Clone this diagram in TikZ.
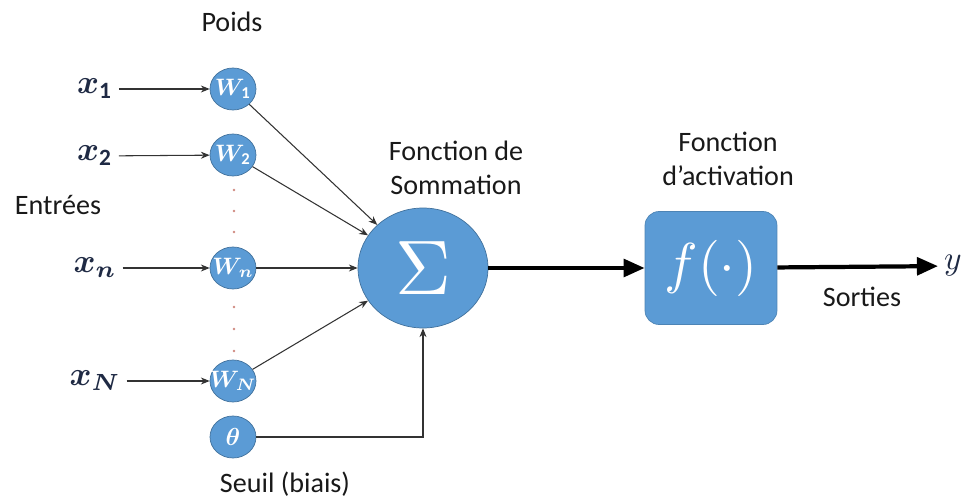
\documentclass[tikz,border=0pt]{standalone}
\usepackage{amsmath}
\usepackage{graphicx}
\usepackage{fontspec}
\setmainfont{Carlito}
\usetikzlibrary{shapes.geometric,arrows.meta}
\definecolor{nodeblue}{HTML}{5B9BD5}
\definecolor{nodeedge}{HTML}{41719C}
\definecolor{dotred}{HTML}{D08A80}
\definecolor{inkblue}{HTML}{1F2A44}
\tikzset{
  weight/.style={ellipse, fill=nodeblue, draw=nodeedge, minimum width=0.92cm, minimum height=0.84cm, inner sep=-10pt, text=white},
  thin arrow/.style={-{Stealth[length=5pt,width=4pt]}, line width=0.6pt, draw=black!80},
  thick arrow/.style={-{Triangle[length=12pt,width=10pt]}, line width=2.4pt},
  label text/.style={font=\fontsize{16}{19}\selectfont, text=black!90, align=center},
  input/.style={text=inkblue}
}
\newcommand{\bigger}[2]{\scalebox{#1}{#2}}
\begin{document}
\begin{tikzpicture}[x=0.02cm, y=-0.02cm]
    \useasboundingbox (0,0) rectangle (961,500);

    % Inputs
    \node[input] (x1) at (95,89) {\bigger{1.9}{$\boldsymbol{x}_{\mathbf{1}}$}};
    \node[input] (x2) at (95,156) {\bigger{1.9}{$\boldsymbol{x}_{\mathbf{2}}$}};
    \node[input] (xn) at (95,268) {\bigger{1.9}{$\boldsymbol{x}_{\boldsymbol{n}}$}};
    \node[input] (xN) at (95,381) {\bigger{1.9}{$\boldsymbol{x}_{\boldsymbol{N}}$}};

    % Weights
    \node[weight] (w1) at (233,89) {\bigger{1.35}{$\boldsymbol{W}_{\!\mathbf{1}}$}};
    \node[weight] (w2) at (233,155) {\bigger{1.35}{$\boldsymbol{W}_{\!\mathbf{2}}$}};
    \node[weight] (wn) at (233,268) {\bigger{1.35}{$\boldsymbol{W}_{\!\boldsymbol{n}}$}};
    \node[weight] (wN) at (233,381) {\bigger{1.35}{$\boldsymbol{W}_{\!\boldsymbol{N}}$}};
    \node[weight] (theta) at (233,437) {\bigger{1.4}{$\boldsymbol{\theta}$}};

    % Dots
    \foreach \y in {190,211,232,307,329,351}
        \fill[dotred] (234,\y) circle (0.8pt);

    % Summation and activation
    \node[ellipse, fill=nodeblue, draw=nodeedge, minimum width=2.6cm, minimum height=2.4cm, inner sep=0pt, text=white] (sum) at (423,268) {\bigger{4.4}{$\Sigma$}};
    \node[rectangle, rounded corners=8pt, fill=nodeblue, draw=nodeblue!85!black, minimum width=2.64cm, minimum height=2.26cm, inner sep=0pt, text=white] (act) at (711,268) {\bigger{3.2}{$f(\cdot)$}};
    \node[input] (y) at (953,266) {\bigger{1.9}{$y$}};

    % Labels
    \node[label text] (poids) at (232,22) {Poids};
    \node[label text] (entrees) at (58,205) {Entrées};
    \node[label text] (somme) at (456,168) {Fonction de\\Sommation};
    \node[label text] (activ) at (728,159) {Fonction\\d’activation};
    \node[label text] (sorties) at (862,297) {Sorties};
    \node[label text] (seuil) at (285,484) {Seuil (biais)};

    % Connections
    \draw[thin arrow] (x1) -- (w1);
    \draw[thin arrow] (x2) -- (w2);
    \draw[thin arrow] (xn) -- (wn);
    \draw[thin arrow] (xN) -- (wN);
    \draw[thin arrow] (w1) -- (sum);
    \draw[thin arrow] (w2) -- (sum);
    \draw[thin arrow] (wn) -- (sum);
    \draw[thin arrow] (wN) -- (sum);
    \draw[thin arrow] (theta) -| (sum);
    \draw[thick arrow] (sum) -- (act);
    \draw[thick arrow] (act) -- (y);
\end{tikzpicture}
\end{document}
